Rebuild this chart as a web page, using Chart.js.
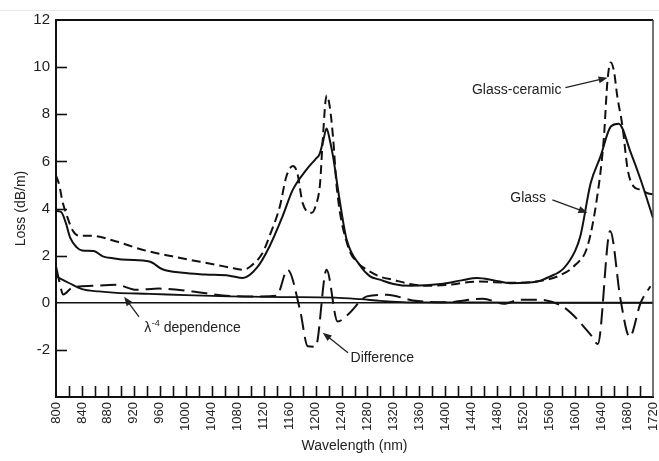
<!DOCTYPE html>
<html>
<head>
<meta charset="utf-8">
<script src="https://cdn.jsdelivr.net/npm/chart.js@4/dist/chart.umd.min.js"></script>
<style>
  html, body { margin: 0; padding: 0; background: #fff; }
  #wrap { position: relative; width: 659px; height: 461px; }
  #rule { position: absolute; left: 0; top: 10px; width: 659px; height: 0; border-top: 1px solid #e8e8e8; }
  canvas { position: absolute; left: 0; top: 0; }
</style>
</head>
<body>
<div id="wrap">
  <div id="rule"></div>
  <canvas id="c" width="659" height="461"></canvas>
</div>
<script>
// Loss spectra of the glass and the glass-ceramic fibre (dB/m vs nm)
const glassNm   = [800, 808, 815, 822, 832, 840, 858, 872, 890, 910, 944, 964, 995, 1030, 1067, 1088, 1110, 1129, 1149, 1165, 1186, 1200, 1206, 1212, 1217, 1222, 1227, 1237, 1248, 1268, 1284, 1299, 1320, 1346, 1397, 1425, 1449, 1475, 1500, 1542, 1560, 1582, 1600, 1608, 1624, 1639, 1655, 1667, 1686, 1701, 1720];
const glassLoss = [3.9, 3.85, 3.4, 2.75, 2.35, 2.22, 2.2, 1.97, 1.88, 1.82, 1.75, 1.42, 1.27, 1.2, 1.15, 1.05, 1.5, 2.39, 3.66, 4.8, 5.65, 6.1, 6.3, 6.9, 7.4, 6.9, 6.2, 4.37, 2.67, 1.6, 1.12, 0.98, 0.8, 0.72, 0.81, 0.95, 1.05, 0.95, 0.83, 0.9, 1.1, 1.45, 2.2, 2.82, 5.08, 6.2, 7.48, 7.6, 6.35, 5.22, 3.6];

const ceramicNm   = [800, 805, 810, 818, 825, 836, 856, 893, 933, 979, 1047, 1067, 1088, 1100, 1118, 1130, 1145, 1155, 1165, 1172, 1180, 1194, 1200, 1207, 1211, 1217, 1222, 1227, 1233, 1250, 1265, 1279, 1300, 1319, 1345, 1372, 1400, 1450, 1500, 1540, 1573, 1600, 1619, 1634, 1644, 1650, 1655, 1660, 1665, 1673, 1681, 1690, 1700, 1712, 1720];
const ceramicLoss = [5.4, 5.0, 4.3, 3.6, 3.1, 2.84, 2.84, 2.6, 2.25, 1.97, 1.61, 1.5, 1.4, 1.55, 2.1, 2.9, 4.09, 5.36, 5.8, 5.5, 4.24, 3.82, 4.1, 5.09, 6.9, 8.8, 8.3, 7.0, 4.8, 2.39, 1.7, 1.4, 1.1, 0.98, 0.8, 0.72, 0.75, 0.9, 0.85, 0.9, 1.12, 1.6, 2.39, 4.5, 6.9, 9.47, 10.2, 9.8, 8.76, 7.48, 5.65, 4.94, 4.8, 4.65, 4.6];

const diffNm   = [800, 806, 811, 825, 856, 893, 924, 959, 1010, 1062, 1114, 1140, 1157, 1176, 1188, 1200, 1217, 1234, 1250, 1279, 1310, 1350, 1400, 1458, 1490, 1516, 1542, 1583, 1624, 1635, 1654, 1670, 1684, 1701, 1716];
const diffLoss = [1.55, 0.8, 0.35, 0.64, 0.72, 0.76, 0.55, 0.6, 0.48, 0.3, 0.27, 0.3, 1.4, -0.3, -1.85, -1.87, 1.4, -0.8, -0.5, 0.27, 0.34, 0.1, 0.02, 0.17, -0.04, 0.13, 0.13, -0.2, -1.36, -1.75, 3.05, 0.13, -1.45, 0.0, 0.7];

const rayleighNm   = [800, 820, 840, 866, 893, 944, 1000, 1067, 1150, 1230, 1270, 1300, 1340, 1450, 1600, 1720];
const rayleighLoss = [1.12, 0.84, 0.58, 0.48, 0.42, 0.38, 0.32, 0.27, 0.24, 0.22, 0.15, 0.08, 0.02, 0.01, 0.0, 0.0];

const xTicks = { min: 800, max: 1720, step: 20, labelEvery: 40 };
const yTicks = { min: -4, max: 12, step: 2 };

const INK = '#111';
const FONT = "'Liberation Sans', Arial, Helvetica, sans-serif";

const pts = (xs, ys) => xs.map((x, i) => ({ x, y: ys[i] }));

// Callouts: text anchor and arrow in data units
const callouts = [
  { text: 'Glass-ceramic', at: [1441, 9.04], from: [1585, 9.13], to: [1650, 9.55] },
  { text: 'Glass', at: [1500, 4.46], from: [1565, 4.37], to: [1619, 3.82] },
  { text: 'λ', sup: '-4', rest: ' dependence', at: [936, -1.06], from: [928, -0.6], to: [905, 0.25] },
  { text: 'Difference', at: [1254, -2.33], from: [1250, -2.12], to: [1211, -1.27] }
];

function arrow(ctx, x1, y1, x2, y2) {
  const ang = Math.atan2(y2 - y1, x2 - x1);
  const len = 9, half = 3.5;
  ctx.beginPath();
  ctx.moveTo(x1, y1);
  ctx.lineTo(x2 - Math.cos(ang) * len * 0.7, y2 - Math.sin(ang) * len * 0.7);
  ctx.stroke();
  ctx.beginPath();
  ctx.moveTo(x2, y2);
  ctx.lineTo(x2 - Math.cos(ang) * len - Math.sin(ang) * half, y2 - Math.sin(ang) * len + Math.cos(ang) * half);
  ctx.lineTo(x2 - Math.cos(ang) * len + Math.sin(ang) * half, y2 - Math.sin(ang) * len - Math.cos(ang) * half);
  ctx.closePath();
  ctx.fill();
}

const framePlugin = {
  id: 'frame',
  afterDraw(chart) {
    const { ctx, chartArea: a, scales: { x, y } } = chart;
    ctx.save();
    // top and right edges of the plot box
    ctx.strokeStyle = INK;
    ctx.lineWidth = 2;
    ctx.beginPath();
    ctx.moveTo(a.left - 1, a.top);
    ctx.lineTo(a.right, a.top);
    ctx.stroke();
    ctx.strokeStyle = '#444';
    ctx.lineWidth = 1.5;
    ctx.beginPath();
    ctx.moveTo(a.right, a.top);
    ctx.lineTo(a.right, a.bottom);
    ctx.stroke();

    // inward tick marks
    ctx.strokeStyle = INK;
    ctx.lineWidth = 1.6;
    for (let v = yTicks.min + yTicks.step; v < yTicks.max; v += yTicks.step) {
      if (v === 0) continue;
      const py = Math.round(y.getPixelForValue(v)) + 0.5;
      ctx.beginPath();
      ctx.moveTo(a.left, py);
      ctx.lineTo(a.left + 11, py);
      ctx.stroke();
    }
    for (let v = xTicks.min + xTicks.step; v < xTicks.max; v += xTicks.step) {
      const px = Math.round(x.getPixelForValue(v)) + 0.5;
      ctx.beginPath();
      ctx.moveTo(px, a.bottom);
      ctx.lineTo(px, a.bottom - 11);
      ctx.stroke();
    }

    // callouts
    ctx.fillStyle = '#222';
    ctx.strokeStyle = '#222';
    ctx.lineWidth = 1.3;
    ctx.textBaseline = 'middle';
    ctx.textAlign = 'left';
    callouts.forEach(c => {
      const tx = x.getPixelForValue(c.at[0]);
      const ty = y.getPixelForValue(c.at[1]);
      ctx.font = '14px ' + FONT;
      ctx.fillText(c.text, tx, ty);
      if (c.sup) {
        const w = ctx.measureText(c.text).width;
        ctx.font = '9px ' + FONT;
        ctx.fillText(c.sup, tx + w + 0.5, ty - 4);
        const ws = ctx.measureText(c.sup).width;
        ctx.font = '14px ' + FONT;
        ctx.fillText(c.rest, tx + w + ws + 0.5, ty);
      }
      arrow(ctx,
        x.getPixelForValue(c.from[0]), y.getPixelForValue(c.from[1]),
        x.getPixelForValue(c.to[0]), y.getPixelForValue(c.to[1]));
    });
    ctx.restore();
  }
};

const lineStyle = { borderColor: INK, borderWidth: 2, pointRadius: 0, fill: false, cubicInterpolationMode: 'monotone' };

new Chart(document.getElementById('c'), {
  type: 'line',
  data: {
    datasets: [
      { label: 'Glass', data: pts(glassNm, glassLoss), ...lineStyle },
      { label: 'Glass-ceramic', data: pts(ceramicNm, ceramicLoss), ...lineStyle, borderDash: [9, 5] },
      { label: 'Difference', data: pts(diffNm, diffLoss), ...lineStyle, borderDash: [16, 7] },
      { label: 'λ-4 dependence', data: pts(rayleighNm, rayleighLoss), ...lineStyle, borderWidth: 1.8 }
    ]
  },
  options: {
    responsive: false,
    devicePixelRatio: 1,
    animation: false,
    layout: { padding: { top: 20, right: 6, left: 0, bottom: 0 } },
    plugins: { legend: { display: false }, tooltip: { enabled: false } },
    scales: {
      x: {
        type: 'linear',
        min: xTicks.min,
        max: xTicks.max,
        afterFit: s => { s.height = 64; s.paddingLeft = 0; s.paddingRight = 0; },
        border: { display: true, color: INK, width: 2 },
        grid: { drawOnChartArea: false, drawTicks: false },
        ticks: {
          stepSize: xTicks.step,
          autoSkip: false,
          minRotation: 90,
          maxRotation: 90,
          padding: 5,
          color: '#222',
          font: { family: FONT, size: 13 },
          callback: v => ((v - xTicks.min) % xTicks.labelEvery === 0 ? String(v) : '')
        },
        title: { display: true, text: 'Wavelength (nm)', color: '#222', font: { family: FONT, size: 14 }, padding: { top: 0, bottom: 6 } }
      },
      y: {
        min: yTicks.min,
        max: yTicks.max,
        afterFit: s => { s.width = 56; s.paddingTop = 0; s.paddingBottom = 0; },
        border: { display: true, color: INK, width: 2 },
        grid: {
          drawTicks: false,
          color: c => (c.tick && c.tick.value === 0 ? INK : 'rgba(0,0,0,0)'),
          lineWidth: c => (c.tick && c.tick.value === 0 ? 1.5 : 0)
        },
        ticks: {
          stepSize: yTicks.step,
          padding: 6,
          color: '#222',
          font: { family: FONT, size: 15 },
          callback: v => (v === yTicks.min ? '' : String(v))
        },
        title: { display: true, text: 'Loss (dB/m)', color: '#222', font: { family: FONT, size: 14 }, padding: { top: 13, bottom: 0 } }
      }
    }
  },
  plugins: [framePlugin]
});
</script>
</body>
</html>
